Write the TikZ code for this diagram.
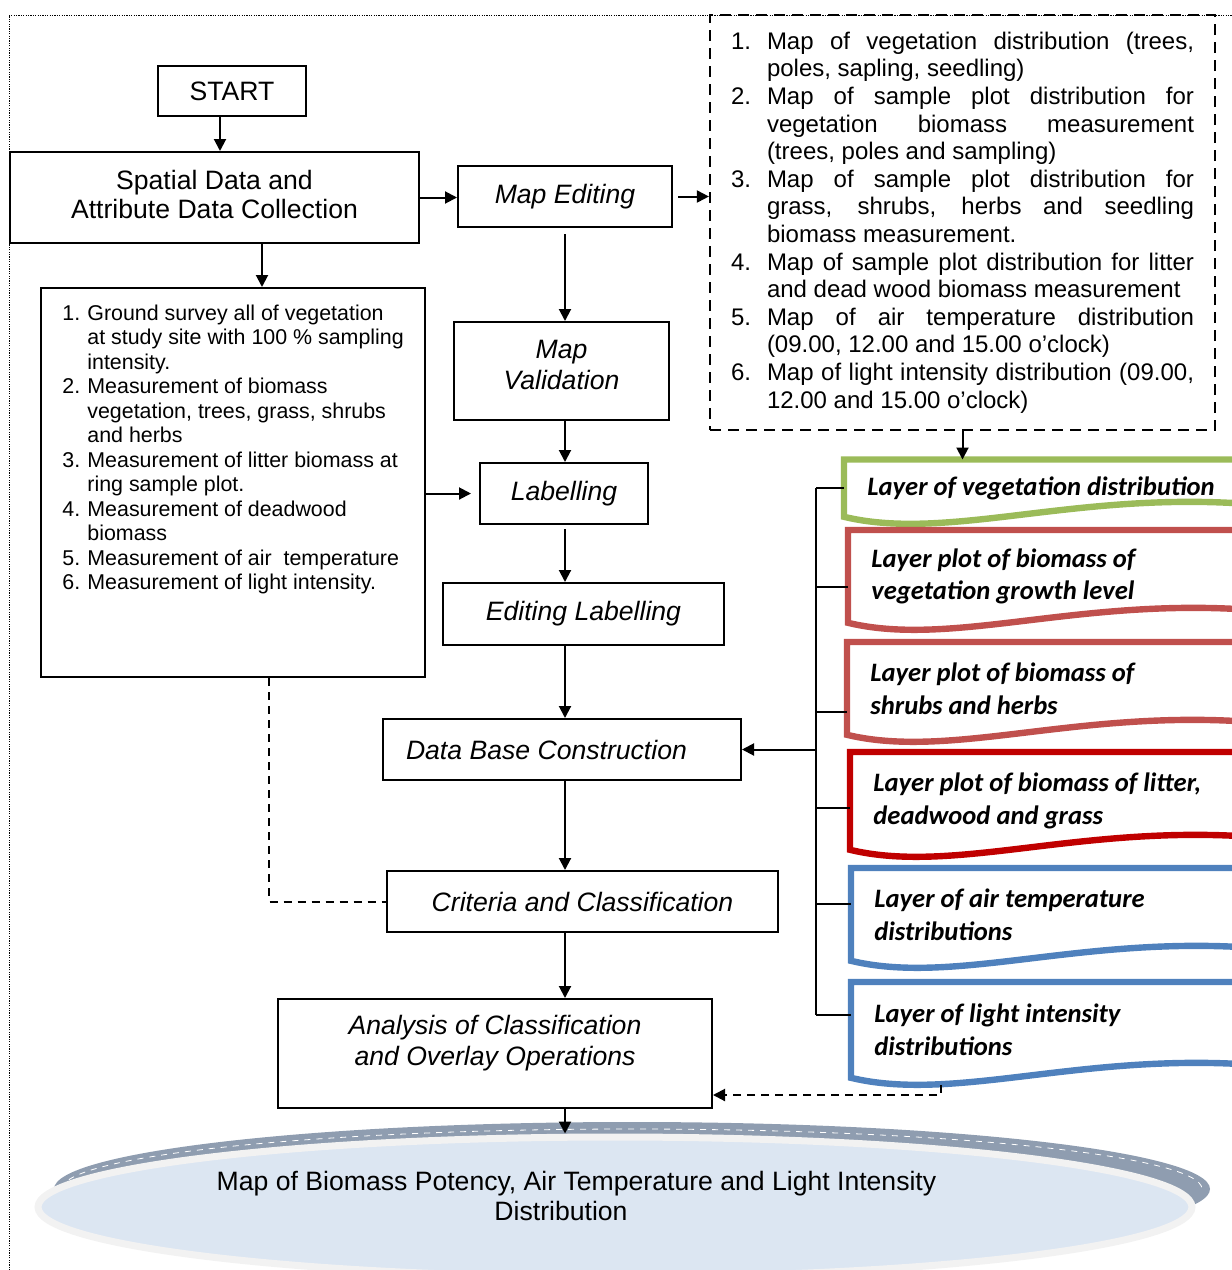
\documentclass[tikz,border=0pt]{standalone}
\usepackage{fontspec}
\setmainfont{Liberation Sans}
\newfontfamily\layerfont{Carlito}
\usetikzlibrary{shapes.geometric,arrows.meta}

\definecolor{vegGreen}{HTML}{9BBB59}
\definecolor{plotRed}{HTML}{C0504D}
\definecolor{litterRed}{HTML}{C00000}
\definecolor{climBlue}{HTML}{4F81BD}
\definecolor{diskGray}{RGB}{143,157,176}
\definecolor{diskFill}{HTML}{DCE6F2}
\definecolor{diskRim}{HTML}{F2F2F2}

\newcommand{\plainspace}{\spaceskip=0pt\xspaceskip=0pt\relax}
\newcommand{\mapnum}[1]{\makebox[18pt][l]{#1}}
\newcommand{\mapfull}[1]{\makebox[213.5pt][s]{\plainspace #1}}
\newcommand{\surveynum}[1]{\makebox[12.5pt][l]{#1}}
\newcommand{\layeredge}[2]{%
  \draw[#2, line width=3.2pt] ([yshift=7pt]#1.south east) -- (#1.north east) -- (#1.north west) -- (#1.south west)
    .. controls ([shift={(50pt,-12pt)}]#1.south west) and ([shift={(110pt,11pt)}]#1.south west) .. ([shift={(192.5pt,7pt)}]#1.south west)
    -- ([yshift=7pt]#1.south east);}

\begin{document}
\begin{tikzpicture}[x=0.5pt,y=-0.5pt]

	\tikzstyle{process} = [rectangle, draw=black, line width=1pt, inner sep=0pt, align=center, font=\fontsize{13.3}{15}\selectfont]
	\tikzstyle{task} = [process, font=\fontsize{13.3}{15}\selectfont\itshape]
	\tikzstyle{maplist} = [rectangle, draw=black, line width=1.1pt, dash pattern=on 5.5pt off 3.5pt, align=left, font=\fontsize{12}{13.8}\selectfont]
	\tikzstyle{layerbox} = [rectangle, anchor=north west, inner xsep=11.5pt, inner ysep=0pt, text width=179pt, align=left, font=\layerfont\bfseries\itshape\fontsize{13.3}{16.5}\selectfont]
	\tikzstyle{arrow} = [line width=1pt,->,>={Triangle[length=6pt,width=6pt]}]
	\tikzstyle{link} = [line width=1pt]
	\tikzstyle{feedback} = [line width=1pt, dash pattern=on 4pt off 3pt, >={Triangle[length=6pt,width=6pt]}]
	\tikzstyle{outerframe} = [line width=0.5pt, dash pattern=on 0.6pt off 0.6pt]

	\useasboundingbox (0,0) rectangle (1232,1270);
	\draw[outerframe] (9,1280) -- (9,15) -- (1240,15);

	\node (start) [process, minimum width=74pt, minimum height=25pt] at (232,91) {START};
	\node (spatial) [process, minimum width=204.5pt, minimum height=45.5pt] at (214.5,197.5) {Spatial Data and\\[-0.5pt]Attribute Data Collection\\[-12pt]~};
	\node (mapedit) [task, minimum width=107pt, minimum height=30.5pt] at (565,196.5) {Map Editing};
	\node (mapval) [task, minimum width=107.5pt, minimum height=49pt] at (561.5,371) {Map\\[0.5pt]Validation\\[-9pt]~};
	\node (label) [task, minimum width=84pt, minimum height=30.5pt] at (564,493.5) {Labelling};
	\node (editlabel) [task, minimum width=140.5pt, minimum height=31pt] at (583.5,614) {Editing Labelling};
	\node (database) [task, minimum height=30.5pt, text width=156pt, inner xsep=11.5pt, align=left] at (562,749.5) {\plainspace Data Base Construction};
	\node (criteria) [task, minimum width=195.5pt, minimum height=30.5pt] at (582.5,901.5) {Criteria and Classification};
	\node (analysis) [task, minimum width=217pt, minimum height=54.5pt] at (495,1053.5) {Analysis of Classification\\[0.5pt]and Overlay Operations\\[-2pt]~};

	\node (maps) [maplist, minimum width=252.5pt, minimum height=207.5pt, text width=231.5pt, inner xsep=10.5pt, inner ysep=0pt] at (962.5,222.5) {\plainspace
		\mapnum{1.}\mapfull{Map of vegetation distribution (trees,}\\
		\hspace*{18pt}poles, sapling, seedling)\\
		\mapnum{2.}\mapfull{Map of sample plot distribution for}\\
		\hspace*{18pt}\mapfull{vegetation biomass measurement}\\
		\hspace*{18pt}(trees, poles and sampling)\\
		\mapnum{3.}\mapfull{Map of sample plot distribution for}\\
		\hspace*{18pt}\mapfull{grass, shrubs, herbs and seedling}\\
		\hspace*{18pt}biomass measurement.\\
		\mapnum{4.}\mapfull{Map of sample plot distribution for litter}\\
		\hspace*{18pt}and dead wood biomass measurement\\
		\mapnum{5.}\mapfull{Map of air temperature distribution}\\
		\hspace*{18pt}(09.00, 12.00 and 15.00 o’clock)\\
		\mapnum{6.}\mapfull{Map of light intensity distribution (09.00,}\\
		\hspace*{18pt}12.00 and 15.00 o’clock)};

	\node (survey) [process, minimum width=192pt, minimum height=194.5pt] at (233,482.5) {};
	\node (surveytext) [anchor=north west, inner sep=0pt, align=left, font=\fontsize{10.7}{12.25}\selectfont] at (62,304.4) {%
		\surveynum{1.}Ground survey all of vegetation\\
		\hspace*{12.5pt}at study site with 100 \% sampling\\
		\hspace*{12.5pt}intensity.\\
		\surveynum{2.}Measurement of biomass\\
		\hspace*{12.5pt}vegetation, trees, grass, shrubs\\
		\hspace*{12.5pt}and herbs\\
		\surveynum{3.}Measurement of litter biomass at\\
		\hspace*{12.5pt}ring sample plot.\\
		\surveynum{4.}Measurement of deadwood\\
		\hspace*{12.5pt}biomass\\
		\surveynum{5.}Measurement of air \ temperature\\
		\surveynum{6.}Measurement of light intensity.};

	\node (veglayer) [layerbox, minimum height=28.25pt] at (844,459.5) {\plainspace Layer of vegetation distribution};
	\node (growthlayer) [layerbox, minimum height=46pt] at (848,530) {\plainspace Layer plot of biomass of\\vegetation growth level};
	\node (shrublayer) [layerbox, minimum height=46pt] at (847,642) {\plainspace Layer plot of biomass of\\shrubs and herbs};
	\node (litterlayer) [layerbox, minimum height=48.5pt] at (850,752) {\plainspace Layer plot of biomass of litter,\\deadwood and grass};
	\node (airlayer) [layerbox, minimum height=46pt] at (851,868) {\plainspace Layer of air temperature\\distributions};
	\node (lightlayer) [layerbox, minimum height=47.5pt] at (851,982) {\plainspace Layer of light intensity\\distributions};
	\layeredge{veglayer}{vegGreen}
	\layeredge{growthlayer}{plotRed}
	\layeredge{shrublayer}{plotRed}
	\layeredge{litterlayer}{litterRed}
	\layeredge{airlayer}{climBlue}
	\layeredge{lightlayer}{climBlue}

	\fill[diskGray] (632,1189) ellipse [x radius=289pt, y radius=33.5pt];
	\draw[white, thin, dashed] (62,1189) arc [start angle=180, end angle=0, x radius=285pt, y radius=30pt];
	\node (result) [ellipse, draw=diskRim, line width=3.5pt, fill=diskFill, minimum width=577pt, minimum height=70pt, inner sep=0pt, align=center, font=\fontsize{13.3}{15}\selectfont] at (615,1207) {\hbox{Map of Biomass Potency, Air Temperature and Light Intensity\kern38.5pt}\\\hbox{Distribution\kern54pt}\\[-4pt]~};

	\coordinate (flow) at (565,0);
	\coordinate (bus) at (816,0);
	\coordinate (growthtick) at ([yshift=-28.5pt]growthlayer.north west);
	\coordinate (shrubtick) at ([yshift=-35pt]shrublayer.north west);
	\coordinate (littertick) at ([yshift=-28pt]litterlayer.north west);
	\coordinate (airtick) at ([yshift=-18pt]airlayer.north west);
	\coordinate (lighttick) at ([yshift=-16.5pt]lightlayer.north west);

	\draw[arrow] ([xshift=-6pt]start.south) -- ([xshift=2.75pt]spatial.north);
	\draw[arrow] (spatial.east) -- (spatial.east -| mapedit.west);
	\draw[arrow, shorten <=2.5pt] (mapedit.east) -- (mapedit.east -| maps.west);
	\draw[arrow] ([xshift=23.75pt]spatial.south) -- ([xshift=14.5pt]survey.north);
	\draw[arrow, shorten <=3pt] (mapedit.south -| flow) -- (mapval.north -| flow);
	\draw[arrow] (mapval.south -| flow) -- (label.north -| flow);
	\draw[arrow, shorten <=2pt] (label.south -| flow) -- (editlabel.north -| flow);
	\draw[arrow] (editlabel.south -| flow) -- (database.north -| flow);
	\draw[arrow] (database.south -| flow) -- (criteria.north -| flow);
	\draw[arrow] (criteria.south -| flow) -- (analysis.north -| flow);
	\draw[arrow] (analysis.south -| flow) -- (result.north -| flow);
	\draw[arrow, shorten >=4pt] (survey.east |- label.west) -- (label.west);
	\draw[arrow] (maps.south) -- (maps.south |- veglayer.north);

	\draw[link] (bus |- veglayer.west) -- (veglayer.west);
	\draw[link] (bus |- veglayer.west) -- (bus |- lighttick);
	\draw[link] (bus |- growthtick) -- (growthtick);
	\draw[link] (bus |- shrubtick) -- (shrubtick);
	\draw[link] (bus |- littertick) -- (littertick);
	\draw[link] (bus |- airtick) -- (airtick);
	\draw[link] (bus |- lighttick) -- (lighttick);
	\draw[arrow] (bus |- database.east) -- (database.east);

	\draw[feedback] ([xshift=18pt]survey.south) |- (criteria.west);
	\draw[feedback, ->] ([shift={(45pt,-3.5pt)}]lightlayer.south west) |- ([yshift=-20.75pt]analysis.east);

\end{tikzpicture}
\end{document}
